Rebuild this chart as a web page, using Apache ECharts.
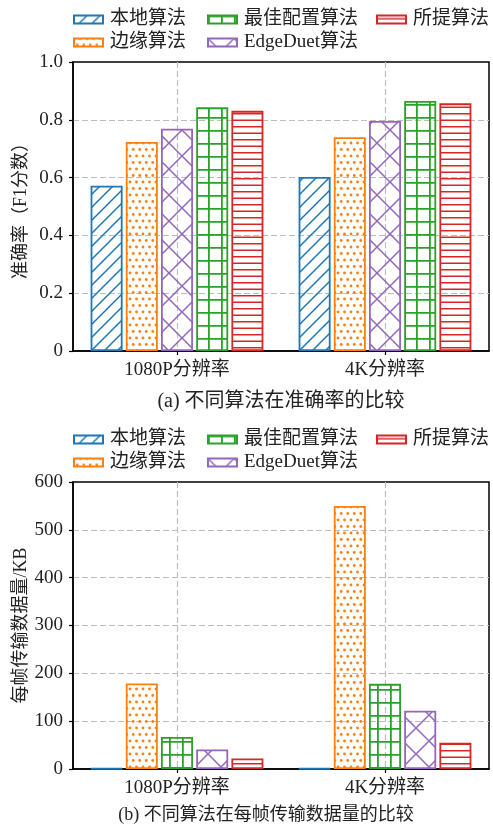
<!DOCTYPE html>
<html>
<head>
<meta charset="utf-8">
<script src="https://cdn.jsdelivr.net/npm/echarts@6/dist/echarts.min.js"></script>
<style>
  html, body { margin: 0; padding: 0; background: #fff; }
  #chart { width: 493px; height: 824px; }
</style>
</head>
<body>
<div id="chart"></div>
<script>
// ---- data ----
const categories = ['1080P分辨率', '4K分辨率'];
const nameLocal = '本地算法';
const nameEdge = '边缘算法';
const nameBest = '最佳配置算法';
const nameDuet = 'EdgeDuet算法';
const nameOurs = '所提算法';

// (a) accuracy, F1 score
const accLocal = [0.572, 0.602];
const accEdge = [0.723, 0.740];
const accDuet = [0.769, 0.796];
const accBest = [0.843, 0.865];
const accOurs = [0.831, 0.857];

// (b) transmitted data per frame, KB
const kbLocal = [1, 1];
const kbEdge = [179, 550];
const kbBest = [67, 178];
const kbDuet = [41, 122];
const kbOurs = [22, 55];

const accTickLabels = ['0', '0.2', '0.4', '0.6', '0.8', '1.0'];
const kbTickLabels = ['0', '100', '200', '300', '400', '500', '600'];

const captionA = '(a) 不同算法在准确率的比较';
const captionB = '(b) 不同算法在每帧传输数据量的比较';

// ---- styling ----
const C_BLUE = '#1f77b4', C_ORANGE = '#ff7f0e', C_GREEN = '#2ca02c', C_RED = '#d62728', C_PURPLE = '#9467bd';
const FONT = "'Liberation Serif', 'Noto Sans CJK SC', serif";
const TXT = '#222';

function pattern(w, h, draw) {
  const cv = document.createElement('canvas');
  cv.width = w; cv.height = h;
  const ctx = cv.getContext('2d');
  draw(ctx);
  return { image: cv, repeat: 'repeat' };
}
function lines(ctx, color, lw, segs) {
  ctx.strokeStyle = color; ctx.lineWidth = lw; ctx.lineCap = 'butt';
  ctx.beginPath();
  segs.forEach(s => { ctx.moveTo(s[0], s[1]); ctx.lineTo(s[2], s[3]); });
  ctx.stroke();
}
const fillDiag = pattern(13, 13, ctx => lines(ctx, C_BLUE, 1.5,
  [[-2, 15, 15, -2], [-2, 2, 2, -2], [11, 15, 15, 11]]));
const fillDots = pattern(13, 13, ctx => {
  ctx.fillStyle = C_ORANGE;
  [[0, 0], [6.5, 0], [13, 0], [0, 13], [6.5, 13], [13, 13], [3.25, 6.5], [9.75, 6.5]].forEach(p => {
    ctx.beginPath(); ctx.arc(p[0], p[1], 1.4, 0, Math.PI * 2); ctx.fill();
  });
});
const fillCross = pattern(26, 26, ctx => lines(ctx, C_PURPLE, 1.5,
  [[-2, 28, 28, -2], [-2, -2, 28, 28], [-2, 2, 2, -2], [24, 28, 28, 24], [-2, 24, 2, 28], [24, -2, 28, 2]]));
const fillGrid = pattern(13, 13, ctx => lines(ctx, C_GREEN, 1.8,
  [[0.9, 0, 0.9, 13], [0, 0.9, 13, 0.9]]));
const fillHoriz = pattern(13, 13, ctx => lines(ctx, C_RED, 1.5,
  [[0, 3.25, 13, 3.25], [0, 9.75, 13, 9.75]]));

const styles = {};
styles[nameLocal] = { color: fillDiag, borderColor: C_BLUE };
styles[nameEdge] = { color: fillDots, borderColor: C_ORANGE };
styles[nameDuet] = { color: fillCross, borderColor: C_PURPLE };
styles[nameBest] = { color: fillGrid, borderColor: C_GREEN };
styles[nameOurs] = { color: fillHoriz, borderColor: C_RED };

function bar(name, data, axisIdx) {
  return {
    type: 'bar', name: name, data: data,
    xAxisIndex: axisIdx, yAxisIndex: axisIdx === 0 ? 0 : 1,
    barWidth: 32, barGap: '10%',
    itemStyle: Object.assign({ borderWidth: 1.8 }, styles[name]),
    emphasis: { disabled: true }
  };
}

const gridLine = { show: true, lineStyle: { color: '#bdbdbd', type: [6, 3], width: 1.2 } };

function categoryAxis(gridIndex) {
  return {
    type: 'category', gridIndex: gridIndex, data: categories,
    axisLine: { show: true, lineStyle: { color: '#000', width: 1.5 } },
    axisTick: { show: true, alignWithLabel: true, length: 4, lineStyle: { color: '#000', width: 1.2 } },
    axisLabel: { color: TXT, fontFamily: FONT, fontSize: 19, margin: 10 },
    splitLine: { show: false }
  };
}
// helper axis placing vertical dashed lines on category centres
function centreLineAxis(gridIndex) {
  return {
    type: 'category', gridIndex: gridIndex, boundaryGap: false,
    data: ['', '', '', '', ''],
    axisLine: { show: false }, axisTick: { show: false }, axisLabel: { show: false },
    splitLine: Object.assign({ interval: (i) => i === 1 || i === 3 }, gridLine)
  };
}
function valueAxis(gridIndex, max, interval, labels, name) {
  return {
    type: 'value', gridIndex: gridIndex, min: 0, max: max, interval: interval,
    name: name, nameLocation: 'middle', nameRotate: 90, nameGap: 43, nameMoveOverlap: false,
    nameTextStyle: { color: TXT, fontFamily: FONT, fontSize: 18 },
    axisLine: { show: true, lineStyle: { color: '#000', width: 1.5 } },
    axisTick: { show: true, length: 4, lineStyle: { color: '#000', width: 1.2 } },
    axisLabel: {
      color: TXT, fontFamily: FONT, fontSize: 19, margin: 10,
      formatter: v => labels[Math.round(v / interval)]
    },
    splitLine: Object.assign({ showMinLine: false, showMaxLine: false }, gridLine)
  };
}

function legendCol(names, left, top) {
  return {
    data: names, orient: 'vertical', left: left, top: top, padding: 0,
    itemGap: 4, itemWidth: 29, itemHeight: 8, icon: 'rect', selectedMode: false,
    itemStyle: { borderWidth: 2 },
    textStyle: { color: TXT, fontFamily: FONT, fontSize: 19, padding: [0, 0, 0, 2] }
  };
}

const chart = echarts.init(document.getElementById('chart'), null, { renderer: 'canvas' });
chart.setOption({
  animation: false,
  backgroundColor: '#fff',
  grid: [
    { left: 73, right: 4, top: 62, bottom: 473, show: true, borderColor: '#000', borderWidth: 1.5 },
    { left: 73, right: 4, top: 482, bottom: 55, show: true, borderColor: '#000', borderWidth: 1.5 }
  ],
  legend: [
    legendCol([nameLocal, nameEdge], 73, 10),
    legendCol([nameBest, nameDuet], 207, 10),
    legendCol([nameOurs], 376, 10),
    legendCol([nameLocal, nameEdge], 73, 430),
    legendCol([nameBest, nameDuet], 207, 430),
    legendCol([nameOurs], 376, 430)
  ],
  xAxis: [categoryAxis(0), centreLineAxis(0), categoryAxis(1), centreLineAxis(1)],
  yAxis: [
    valueAxis(0, 1, 0.2, accTickLabels, '准确率（F1分数）'),
    valueAxis(1, 600, 100, kbTickLabels, '每帧传输数据量/KB')
  ],
  series: [
    bar(nameLocal, accLocal, 0),
    bar(nameEdge, accEdge, 0),
    bar(nameDuet, accDuet, 0),
    bar(nameBest, accBest, 0),
    bar(nameOurs, accOurs, 0),
    bar(nameLocal, kbLocal, 2),
    bar(nameEdge, kbEdge, 2),
    bar(nameBest, kbBest, 2),
    bar(nameDuet, kbDuet, 2),
    bar(nameOurs, kbOurs, 2)
  ],
  graphic: [
    { type: 'text', x: 281, y: 402, style: { text: captionA, fill: TXT, font: '20px ' + FONT, align: 'center', verticalAlign: 'middle' } },
    { type: 'text', x: 266, y: 815, style: { text: captionB, fill: TXT, font: '18px ' + FONT, align: 'center', verticalAlign: 'middle' } }
  ]
});
</script>
</body>
</html>
